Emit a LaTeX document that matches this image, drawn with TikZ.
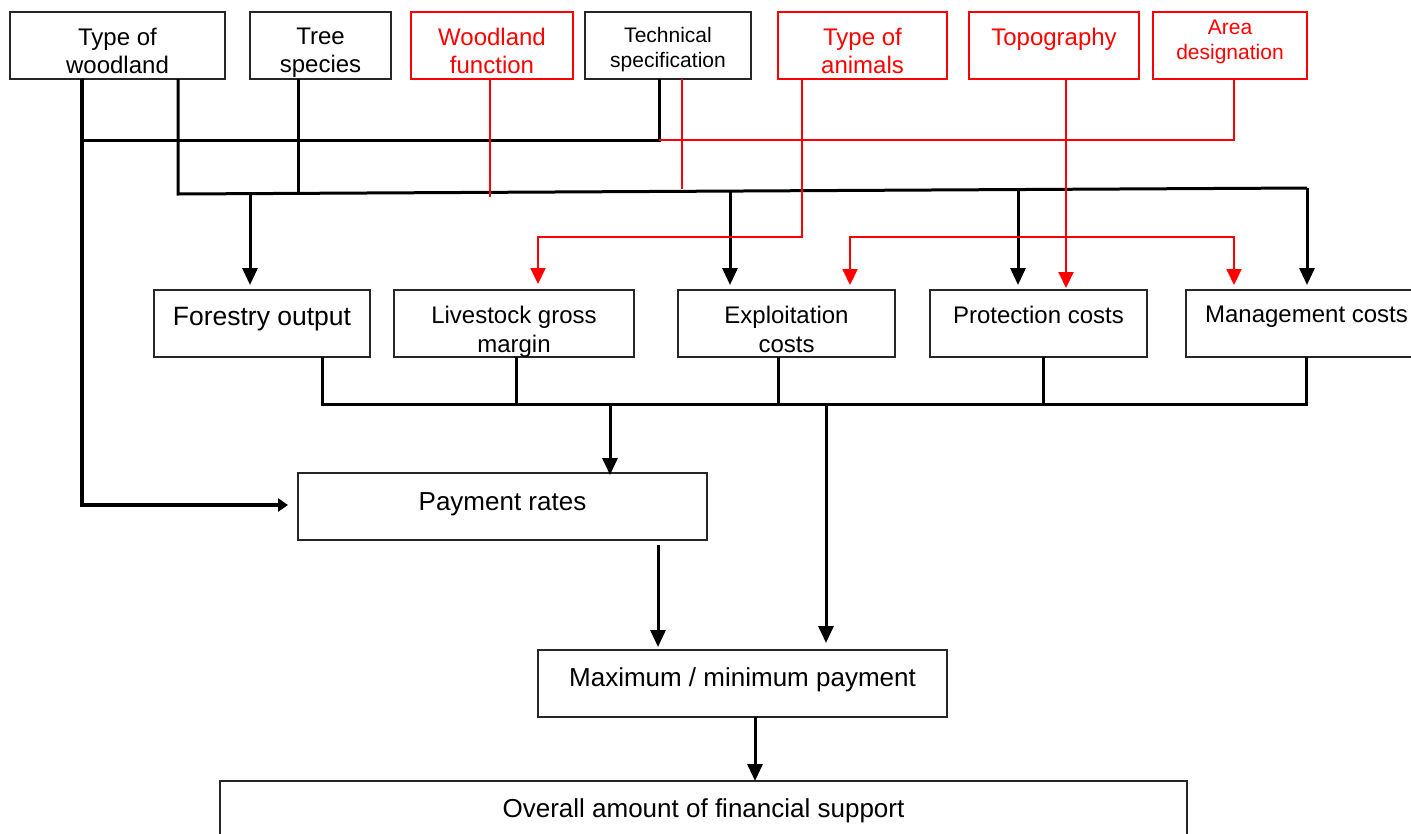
\documentclass[tikz,border=0pt]{standalone}
\usepackage{fontspec}
\setmainfont{Liberation Sans}
\usetikzlibrary{arrows.meta}
\begin{document}
\begin{tikzpicture}[x=1pt,y=-1pt,
  bx/.style={draw=black!85, line width=1.3pt, anchor=north west, inner sep=0pt, outer sep=0pt},
  rbx/.style={bx, draw=red},
  lbl/.style={anchor=north, align=center, inner sep=0pt, outer sep=0pt},
  fA/.style={font=\fontsize{24}{28}\selectfont},
  fAw/.style={font=\fontsize{24}{29}\selectfont},
  fB/.style={font=\fontsize{21}{25}\selectfont},
  fC/.style={font=\fontsize{26}{30}\selectfont},
  blk/.style={draw=black, line width=3pt},
  rd/.style={draw=red, line width=2.1pt},
  tip/.style={-{Triangle[width=15pt,length=17pt]}},
  rtip/.style={-{Triangle[width=15pt,length=16pt]}},
]
\useasboundingbox (0,0) rectangle (1411,833);

% ---------- top row ----------
\node[bx,  minimum width=215pt, minimum height=67pt] (tw)   at (10,12) {};
\node[bx,  minimum width=141pt, minimum height=67pt] (ts)   at (250,12) {};
\node[rbx, minimum width=162pt, minimum height=67pt] (wf)   at (411,12) {};
\node[bx,  minimum width=166pt, minimum height=67pt] (tech) at (585,12) {};
\node[rbx, minimum width=169pt, minimum height=67pt] (ta)   at (778,12) {};
\node[rbx, minimum width=170pt, minimum height=67pt] (topo) at (969,12) {};
\node[rbx, minimum width=154pt, minimum height=67pt] (area) at (1153,12) {};

\node[lbl, fA] (twl) at ([yshift=-16pt]tw.north) {Type of\\woodland};
\node[lbl, fA] (tsl) at ([yshift=-16pt]ts.north) {Tree\\species};
\node[lbl, fA, text=red] (wfl) at ([yshift=-16pt]wf.north) {Woodland\\function};
\node[lbl, fB] (techl) at ([yshift=-15pt]tech.north) {Technical\\specification};
\node[lbl, fA, text=red] (tal) at ([yshift=-16pt]ta.north) {Type of\\animals};
\node[lbl, fA, text=red] (topol) at ([yshift=-16pt]topo.north) {Topography};
\node[lbl, fB, text=red] (areal) at ([yshift=-8pt]area.north) {Area\\designation};

% ---------- middle row ----------
\node[bx, minimum width=216pt, minimum height=67pt] (fo) at (154,290) {};
\node[bx, minimum width=240pt, minimum height=67pt] (lg) at (394,290) {};
\node[bx, minimum width=217pt, minimum height=67pt] (ec) at (678,290) {};
\node[bx, minimum width=217pt, minimum height=67pt] (pc) at (930,290) {};
\node[bx, minimum width=241pt, minimum height=67pt] (mc) at (1186,290) {};

\node[lbl, font=\fontsize{26.5}{30}\selectfont] (fol) at ([yshift=-17pt]fo.north) {Forestry output};
\node[lbl, fAw] (lgl) at ([yshift=-16pt]lg.north) {Livestock gross\\margin};
\node[lbl, fAw] (ecl) at ([yshift=-16pt]ec.north) {Exploitation\\costs};
\node[lbl, fAw] (pcl) at ([yshift=-16pt]pc.north) {Protection costs};
\node[lbl, fAw] (mcl) at ([yshift=-16pt]mc.north) {Management costs};

% ---------- lower boxes ----------
\node[bx, minimum width=409pt, minimum height=67pt] (pr) at (298,473) {};
\node[bx, minimum width=409pt, minimum height=67pt] (mm) at (538,650) {};
\node[bx, minimum width=967pt, minimum height=70pt] (oa) at (220,781) {};

\node[lbl, fC] (prl) at ([yshift=-20pt]pr.north) {Payment rates};
\node[lbl, fC] (mml) at ([yshift=-18pt]mm.north) {Maximum / minimum payment};
\node[lbl, fC] (oal) at ([yshift=-18pt]oa.north) {Overall amount of financial support};

% ---------- junction coordinates ----------
\coordinate (jA) at (82,140);
\coordinate (jT) at (659,140);
\coordinate (jR) at (1234,140);
\coordinate (bL) at (178,194);
\coordinate (bR) at (1307,188);
\coordinate (bS) at (298,193.4);
\coordinate (b1) at (250,193.7);
\coordinate (b2) at (730,191.1);
\coordinate (b3) at (1018,189.5);
\coordinate (rA) at (802,237);
\coordinate (rT) at (1066,237);
\coordinate (cL) at (322,404);
\coordinate (cR) at (1306,404);
\coordinate (c1) at (610,404);
\coordinate (c2) at (826,404);
\coordinate (lw) at (82,505);

% ---------- black connectors (top) ----------
\draw[blk] (jA) -- (jT) -- (tech.south -| jT);
\draw[blk, line width=3.4pt, -{Triangle[width=13pt,length=10pt]}, shorten >=10pt] (tw.south -| jA) -- (lw) -- (lw -| pr.west);
\draw[blk] (tw.south -| bL) -- (bL) -- (bR);
\draw[blk] (ts.south -| bS) -- (bS);
\draw[blk, tip, shorten >=5pt] (b1) -- (fo.north -| b1);
\draw[blk, tip, shorten >=5pt] (b2) -- (ec.north -| b2);
\draw[blk, tip, shorten >=5pt] (b3) -- (pc.north -| b3);
\draw[blk, tip, shorten >=5pt] (bR) -- (mc.north -| bR);

% ---------- red connectors ----------
\draw[rd] (area.south -| jR) -- (jR) -- (jT);
\draw[rd] (wf.south -| 490,0) -- (490,197);
\draw[rd] (tech.south -| 682,0) -- (682,189);
\draw[rd, rtip, shorten >=6pt] (ta.south -| rA) -- (rA) -- (538,237) -- (lg.north -| 538,0);
\draw[rd, rtip, shorten >=2pt] (topo.south -| rT) -- (pc.north -| rT);
\draw[rd, {Triangle[width=15pt,length=16pt]}-{Triangle[width=15pt,length=16pt]}, shorten >=5pt, shorten <=5pt]
  (ec.north -| 850,0) |- (rT) -| (mc.north -| 1234,0);

% ---------- black connectors (bottom) ----------
\draw[blk] (fo.south -| cL) -- (cL) -- (cR) -- (mc.south -| cR);
\draw[blk] (lg.south -| 516,0) -- (516,404);
\draw[blk] (ec.south -| 778,0) -- (778,404);
\draw[blk] (pc.south -| 1043,0) -- (1043,404);
\draw[blk, tip, shorten >=-2pt] (c1) -- (pr.north -| c1);
\draw[blk, tip, shorten >=7pt] (c2) -- (mm.north -| c2);
\draw[blk, tip, shorten >=3pt] ([yshift=-5pt]pr.south -| 658,0) -- (mm.north -| 658,0);
\draw[blk, tip] (mm.south -| 755,0) -- (oa.north -| 755,0);
\end{tikzpicture}
\end{document}
